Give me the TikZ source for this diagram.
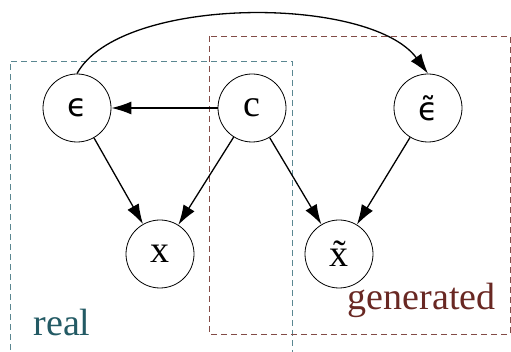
\documentclass[tikz,border=0pt]{standalone}
\usepackage{fontspec}
\setmainfont{Liberation Serif}
\newfontfamily\epsfont{DejaVu Sans}
\usetikzlibrary{arrows.meta}
\definecolor{realcol}{RGB}{90,135,145}
\definecolor{realtxt}{RGB}{35,90,100}
\definecolor{gencol}{RGB}{130,75,70}
\definecolor{gentxt}{RGB}{105,40,35}
\begin{document}
\begin{tikzpicture}[
    x=1pt, y=-1pt,
    every node/.style={
        font=\fontsize{38}{40}\selectfont,
    },
    var/.style={circle, draw, line width=0.8pt, minimum size=68pt, inner sep=0pt},
    edge/.style={-{Latex[length=20pt,width=13pt]}, line width=1.3pt},
    group/.style={dashed, dash pattern=on 6pt off 4pt, line width=0.9pt},
]
    \clip (0,0) rectangle (511,352);
    % plates
    \draw[group, realcol] (10,360) -- (10,61) -- (292,61) -- (292,360);
    \draw[group, gencol] (209,36) rectangle (510,334);
    \node[anchor=base west, text=realtxt] (lreal) at (30,336) {real};
    \node[anchor=base east, text=gentxt] (lgen) at (499,310) {generated};
    % variables
    \node[var, font=\epsfont\fontsize{32}{34}\selectfont] (eps) at (77,108) {ϵ};
    \node[var] (c) at (252,108) {c};
    \node[var, font=\epsfont\fontsize{32}{34}\selectfont] (teps) at (428,108) {\~{ϵ}};
    \node[var] (x) at (160,254) {x};
    \node[var] (tx) at (339,254) {\~{x}};
    % edges
    \draw[edge] (c) -- (eps);
    \draw[edge] (eps) -- (x);
    \draw[edge] (c) -- (x);
    \draw[edge] (c) -- (tx);
    \draw[edge] (teps) -- (tx);
    \draw[edge] (eps.north) .. controls (120,-5) and (370,-5) .. (teps.north);
\end{tikzpicture}
\end{document}
